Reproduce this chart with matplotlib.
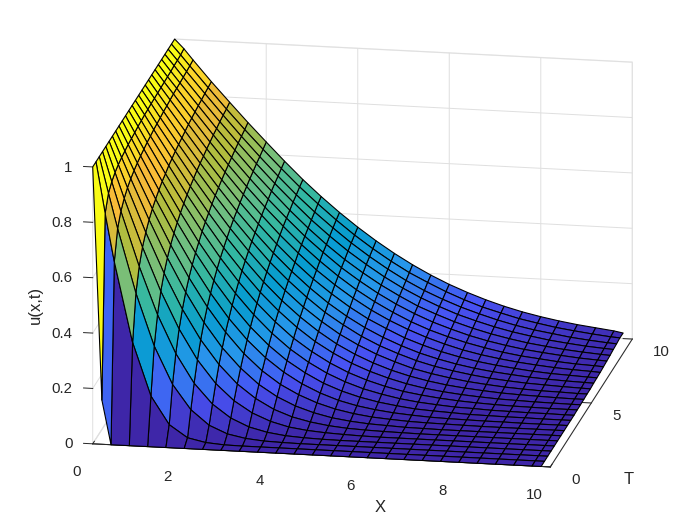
import numpy as np
import matplotlib
matplotlib.use("Agg")
import matplotlib.pyplot as plt
from matplotlib.colors import LinearSegmentedColormap
from matplotlib.text import Text

# values
x_vals = [0, .2, .4, .8, 1.2, 1.6, 2, 2.4, 2.8, 3.2, 3.6, 4, 4.4, 4.8, 5.2, 5.6, 6, 6.4, 6.8, 7.2, 7.6, 8, 8.4, 8.8, 9.2, 9.6, 9.8]
t_vals = [0, .4, .8, 1.2, 1.6, 2, 2.4, 2.8, 3.2, 3.6, 4, 4.4, 4.8, 5.2, 5.6, 6, 6.4, 6.8, 7.2, 7.6, 8, 8.4, 8.8, 9.2, 9.6, 10]
u_rows = [
    [1, .16, 0, 0, 0, 0, 0, 0, 0, 0, 0, 0, 0, 0, 0, 0, 0, 0, 0, 0, 0, 0, 0, 0, 0, 0, 0],
    [1, .816, .643, .354, .164, .064, .02, .006, .001, 0, 0, 0, 0, 0, 0, 0, 0, 0, 0, 0, 0, 0, 0, 0, 0, 0, 0],
    [1, .87, .744, .514, .326, .191, .103, .05, .022, .009, .003, .001, 0, 0, 0, 0, 0, 0, 0, 0, 0, 0, 0, 0, 0, 0, 0],
    [1, .893, .788, .592, .421, .284, .18, .108, .061, .032, .016, .007, .003, .001, 0, 0, 0, 0, 0, 0, 0, 0, 0, 0, 0, 0, 0],
    [1, .908, .816, .643, .487, .354, .246, .164, .105, .064, .037, .02, .011, .006, .003, .001, 0, 0, 0, 0, 0, 0, 0, 0, 0, 0, 0],
    [1, .918, .836, .678, .534, .407, .3, .214, .147, .098, .062, .038, .023, .013, .007, .004, .002, .001, 0, 0, 0, 0, 0, 0, 0, 0, 0],
    [1, .925, .85, .705, .571, .45, .344, .256, .186, .13, .089, .059, .038, .023, .014, .008, .005, .002, .001, 0, 0, 0, 0, 0, 0, 0, 0],
    [1, .93, .861, .726, .599, .484, .382, .294, .22, .161, .115, .081, .055, .036, .023, .014, .009, .005, .003, .002, .001, 0, 0, 0, 0, 0, 0],
    [1, .935, .87, .743, .623, .512, .413, .325, .251, .19, .141, .102, .072, .049, .033, .022, .014, .009, .005, .003, .002, .001, .001, 0, 0, 0, 0],
    [1, .938, .877, .757, .643, .537, .44, .354, .279, .216, .164, .123, .089, .064, .045, .031, .021, .013, .009, .006, .003, .002, .001, .001, 0, 0, 0],
    [1, .941, .883, .77, .66, .557, .464, .379, .305, .241, .187, .143, .107, .079, .057, .041, .028, .019, .013, .008, .006, .003, .002, .001, .001, 0, 0],
    [1, .945, .889, .779, .675, .577, .485, .402, .328, .264, .208, .163, .125, .094, .07, .051, .036, .026, .018, .012, .008, .005, .003, .002, .001, .001, .001],
    [1, .947, .893, .79, .688, .593, .503, .423, .349, .285, .229, .181, .142, .109, .083, .062, .045, .032, .023, .016, .011, .007, .005, .003, .002, .001, .001],
    [1, .95, .898, .797, .7, .607, .52, .441, .368, .304, .248, .199, .157, .123, .095, .072, .054, .04, .029, .021, .015, .01, .007, .005, .003, .002, .002],
    [1, .951, .901, .805, .71, .621, .536, .458, .386, .322, .265, .216, .173, .138, .108, .084, .063, .048, .036, .026, .019, .013, .009, .006, .005, .003, .003],
    [1, .953, .904, .811, .72, .633, .55, .474, .402, .339, .282, .231, .189, .151, .12, .095, .073, .056, .043, .032, .023, .017, .012, .009, .006, .004, .003],
    [1, .954, .908, .816, .728, .643, .562, .487, .417, .354, .297, .246, .202, .164, .132, .105, .082, .064, .049, .037, .028, .021, .015, .011, .008, .006, .005],
    [1, .955, .91, .822, .735, .653, .574, .5, .431, .368, .311, .261, .216, .177, .145, .115, .092, .072, .056, .043, .033, .025, .018, .013, .01, .007, .006],
    [1, .956, .913, .828, .743, .662, .585, .513, .445, .383, .325, .275, .23, .19, .156, .127, .102, .081, .063, .049, .038, .029, .022, .016, .012, .009, .007],
    [1, .957, .916, .832, .749, .67, .595, .524, .458, .395, .339, .288, .242, .202, .167, .136, .11, .089, .071, .056, .043, .033, .026, .019, .014, .011, .009],
    [1, .958, .918, .836, .756, .678, .605, .534, .469, .407, .352, .3, .255, .214, .178, .147, .12, .098, .078, .062, .049, .038, .03, .023, .017, .013, .011],
    [1, .959, .919, .84, .761, .686, .613, .545, .479, .418, .362, .311, .266, .225, .189, .156, .13, .106, .086, .069, .055, .043, .034, .026, .02, .015, .013],
    [1, .961, .921, .843, .767, .693, .622, .554, .49, .429, .374, .323, .278, .236, .199, .167, .139, .114, .094, .076, .061, .049, .038, .03, .023, .018, .016],
    [1, .962, .923, .847, .772, .699, .629, .562, .498, .439, .385, .334, .288, .246, .208, .175, .147, .122, .101, .082, .066, .053, .043, .033, .026, .02, .018],
    [1, .963, .925, .85, .776, .705, .637, .571, .508, .45, .395, .344, .298, .256, .218, .186, .156, .13, .107, .089, .072, .059, .047, .038, .03, .023, .021],
    [1, .967, .928, .853, .782, .712, .645, .579, .516, .458, .404, .354, .308, .266, .228, .194, .164, .138, .115, .095, .078, .064, .052, .042, .034, .026, .02],
]
x_ticks = [0, 2, 4, 6, 8, 10]
t_ticks = [0, 5, 10]
z_ticks = [0, .2, .4, .6, .8, 1]
z_ticklabels = ["0", "0.2", "0.4", "0.6", "0.8", "1"]

parula_colors = [(0.2422, 0.1504, 0.6603), (0.2810, 0.3228, 0.9579), (0.1540, 0.5902, 0.9218),
                 (0.0265, 0.6137, 0.8135), (0.1938, 0.7177, 0.6382), (0.4420, 0.7481, 0.5033),
                 (0.7, 0.74, 0.24), (0.98, 0.73, 0.22), (0.9769, 0.9839, 0.0805)]
parula = LinearSegmentedColormap.from_list("parula", parula_colors, N=256)

plt.rcParams["font.family"] = ["Liberation Sans", "DejaVu Sans"]
text_col = "#262626"
grid_col = "#dfdfdf"

fig = plt.figure(figsize=(7, 5.25), dpi=100)
# axes bigger than the figure so nothing gets clipped
W = 800
left = 362.5 - 0.5135 * W
bottom = 272 - 0.5135 * W
ax = fig.add_axes([left / 700, bottom / 525, W / 700, W / 525], projection="3d")
ax.set_proj_type("ortho")
ax.view_init(elev=16.3, azim=-79.8)
ax.set_box_aspect((465, 463, 288.5), zoom=695.8 / W)
ax.patch.set_alpha(0)

X, T = np.meshgrid(x_vals, t_vals)
U = np.array(u_rows)
ax.plot_surface(X, T, U, facecolors=parula(U), rstride=1, cstride=1,
                edgecolor="black", linewidth=0.8, shade=False, antialiased=True)

ax.set_xlim(0, 10, view_margin=0)
ax.set_ylim(0, 10, view_margin=0)
ax.set_zlim(0, 1, view_margin=0)
ax.set_xticks(x_ticks)
ax.set_yticks(t_ticks)
ax.set_zticks(z_ticks)
ax.set_xticklabels([])
ax.set_yticklabels([])
ax.set_zticklabels([])

for axis in (ax.xaxis, ax.yaxis, ax.zaxis):
    axis.pane.set_facecolor((1, 1, 1, 0))
    axis.pane.set_edgecolor(grid_col)
    axis.line.set_color(text_col)
    axis.line.set_linewidth(0.7)
    axis._axinfo["grid"].update(color=grid_col, linewidth=0.7)
    axis._axinfo["tick"].update(inward_factor=0, outward_factor=0.25, linewidth={True: 0.7, False: 0.5})
ax.zaxis._axinfo["juggled"] = (1, 0, 2)
ax.tick_params(axis="both", colors=text_col)
ax.tick_params(axis="z", colors=text_col)

# the empty default texts sit outside the figure, switch them off
for txt in fig.findobj(Text):
    if not txt.get_text():
        txt.set_visible(False)

# tick labels placed in data coords, just off the axes
tick_size = 10.8
for v in x_ticks:
    ax.text(v, -2.0, -0.01, str(v), fontsize=tick_size, color=text_col, ha="center", va="center")
for v in t_ticks:
    ax.text(10.46, v, -0.043, str(v), fontsize=tick_size, color=text_col, ha="left", va="center")
for v, lab in zip(z_ticks, z_ticklabels):
    ax.text(-0.44, 0, v - 0.006, lab, fontsize=tick_size, color=text_col, ha="right", va="center")

fig.text(380 / 700, 1 - 507 / 525, "X", fontsize=12, color=text_col, ha="center", va="center")
fig.text(629 / 700, 1 - 480 / 525, "T", fontsize=12, color=text_col, ha="center", va="center")
fig.text(35 / 700, 1 - 305 / 525, "u(x,t)", fontsize=12, color=text_col, rotation=90, ha="center", va="center")

fig.savefig("out.png", dpi=100)
